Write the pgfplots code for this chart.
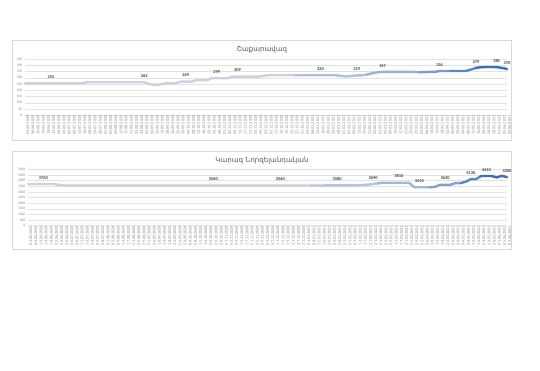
\documentclass[border=0pt]{standalone}
\usepackage{fontspec}
\setmainfont{Carlito}
\newfontfamily\armfont{DejaVu Sans}
\usepackage{pgfplots}
\usepackage{pgfplotstable}
\pgfplotsset{compat=1.18}
\definecolor{lc}{HTML}{C9D2DF}
\definecolor{dc}{HTML}{2E67B1}
\definecolor{gridc}{HTML}{E3E3E3}
\definecolor{tickc}{HTML}{8C8C8C}
\definecolor{labc}{HTML}{404040}
\definecolor{titc}{HTML}{595959}
\definecolor{boxc}{HTML}{D9D9D9}

\pgfplotstableread{
x y
0 255
1 255
2 255
3 255
4 255
5 255
6 255
7 255
8 255
9 255
10 255
11 255
12 264
13 264
14 264
15 264
16 264
17 264
18 264
19 264
20 264
21 264
22 264
23 264
24 250
25 244
26 246
27 255
28 255
29 255
30 269
31 269
32 269
33 280
34 280
35 280
36 296
37 296
38 296
39 296
40 309
41 309
42 309
43 309
44 309
45 309
46 315
47 320
48 320
49 320
50 320
51 320
52 320
53 320
54 320
55 320
56 320
57 320
58 320
59 320
60 320
61 314
62 311
63 314
64 319
65 319
66 326
67 336
68 344
69 347
70 347
71 347
72 347
73 347
74 347
75 347
76 344
77 345
78 347
79 347
80 354
81 354
82 354
83 354
84 354
85 354
86 365
87 379
88 384
89 386
90 386
91 385
92 379
93 370
}\topdata

\pgfplotstableread{
x y lab
5 255 255
23 264 264
31 269 269
37 296 299
41 309 309
57 320 320
64 319 319
69 347 347
80 354 354
87 379 379
91 385 385
93 370 370
}\toplabels

\pgfplotstableread{
x y
0 3700
1 3700
2 3700
3 3700
4 3700
5 3700
6 3600
7 3560
8 3560
9 3560
10 3560
11 3560
12 3560
13 3560
14 3560
15 3560
16 3560
17 3560
18 3560
19 3560
20 3560
21 3560
22 3560
23 3560
24 3560
25 3560
26 3560
27 3560
28 3560
29 3560
30 3560
31 3560
32 3560
33 3560
34 3560
35 3560
36 3560
37 3560
38 3560
39 3560
40 3560
41 3560
42 3560
43 3560
44 3560
45 3560
46 3560
47 3560
48 3560
49 3560
50 3560
51 3560
52 3560
53 3560
54 3560
55 3560
56 3560
57 3560
58 3580
59 3580
60 3580
61 3580
62 3580
63 3580
64 3580
65 3600
66 3640
67 3690
68 3760
69 3810
70 3810
71 3810
72 3810
73 3810
74 3800
75 3410
76 3410
77 3410
78 3410
79 3440
80 3630
81 3630
82 3630
83 3780
84 3780
85 3900
86 4130
87 4130
88 4410
89 4410
90 4410
91 4280
92 4420
93 4300
}\botdata

\pgfplotstableread{
x y lab
3 3700 3700
36 3560 3560
49 3560 3560
60 3580 3580
67 3690 3690
72 3810 3810
76 3410 3410
81 3630 3630
86 4130 4130
89 4410 4410
93 4300 4300
}\botlabels

\pgfplotsset{
  mychart/.style={
    scale only axis, clip=false,
    xmin=0, xmax=93,
    axis line style={draw=none},
    major tick length=0pt,
    ymajorgrids,
    grid style={gridc, line width=0.45pt},
    xtick={0,...,93},
    xticklabels={02.06.2020,06.06.2020,10.06.2020,14.06.2020,18.06.2020,22.06.2020,26.06.2020,30.06.2020,
04.07.2020,08.07.2020,12.07.2020,16.07.2020,20.07.2020,24.07.2020,28.07.2020,
01.08.2020,05.08.2020,09.08.2020,13.08.2020,17.08.2020,21.08.2020,25.08.2020,29.08.2020,
02.09.2020,06.09.2020,10.09.2020,14.09.2020,18.09.2020,22.09.2020,26.09.2020,30.09.2020,
04.10.2020,08.10.2020,12.10.2020,16.10.2020,20.10.2020,24.10.2020,28.10.2020,
01.11.2020,05.11.2020,09.11.2020,13.11.2020,17.11.2020,21.11.2020,25.11.2020,29.11.2020,
03.12.2020,07.12.2020,11.12.2020,15.12.2020,19.12.2020,23.12.2020,27.12.2020,31.12.2020,
04.01.2021,08.01.2021,12.01.2021,16.01.2021,20.01.2021,24.01.2021,28.01.2021,
01.02.2021,05.02.2021,09.02.2021,13.02.2021,17.02.2021,21.02.2021,25.02.2021,
01.03.2021,05.03.2021,09.03.2021,13.03.2021,17.03.2021,21.03.2021,25.03.2021,29.03.2021,
02.04.2021,06.04.2021,10.04.2021,14.04.2021,18.04.2021,22.04.2021,26.04.2021,30.04.2021,
04.05.2021,08.05.2021,12.05.2021,16.05.2021,20.05.2021,24.05.2021,28.05.2021,
01.06.2021,05.06.2021,09.06.2021},
    xticklabel style={font=\fontsize{4.2}{5}\selectfont, text=tickc, rotate=90, anchor=east, inner sep=0pt, yshift=-2.6pt},
    yticklabel style={font=\fontsize{3.6}{4}\selectfont, text=tickc, inner sep=0pt, xshift=-2.5pt},
    /pgf/number format/assume math mode=true,
    /pgf/number format/1000 sep={},
    every node near coord/.append style={font=\fontsize{4.4}{5}\selectfont\bfseries, text=labc, anchor=south, inner sep=0pt, yshift=4.6pt},
  },
  seg/.style={line width=2.4pt, line join=round, line cap=round, mark=none},
}

\begin{document}
\begin{tikzpicture}
\path[use as bounding box, fill=white] (0,0) rectangle (540pt,370pt);
\draw[boxc, line width=0.5pt] (12pt,330pt) rectangle (511pt,229.5pt);
\draw[boxc, line width=0.5pt] (12pt,218.3pt) rectangle (511pt,121pt);
\node[font=\armfont\fontsize{7}{8}\selectfont, text=titc] at (262pt,320pt) {Շաքարավազ};
\node[font=\armfont\fontsize{7}{8}\selectfont, text=titc] at (262pt,209pt) {Կարագ Նորզելանդական};

\begin{axis}[mychart, at={(25pt,254.7pt)}, anchor=south west, width=482pt, height=56.3pt,
  ymin=0, ymax=450, ytick={0,50,...,450}]
\addplot[seg, color=lc, restrict x to domain=0:52] table[x=x,y=y] {\topdata};
\addplot[seg, color=dc!15!lc, restrict x to domain=52:66] table[x=x,y=y] {\topdata};
\addplot[seg, color=dc!30!lc, restrict x to domain=66:76] table[x=x,y=y] {\topdata};
\addplot[seg, color=dc!50!lc, restrict x to domain=76:82] table[x=x,y=y] {\topdata};
\addplot[seg, color=dc!70!lc, restrict x to domain=82:87] table[x=x,y=y] {\topdata};
\addplot[seg, color=dc!92!lc, restrict x to domain=87:93] table[x=x,y=y] {\topdata};
\addplot[draw=none, mark=none, nodes near coords, point meta=explicit symbolic] table[x=x,y=y,meta=lab] {\toplabels};
\end{axis}

\begin{axis}[mychart, at={(28pt,144.3pt)}, anchor=south west, width=479pt, height=56.4pt,
  ymin=0, ymax=5000, ytick={0,500,...,5000}]
\addplot[seg, color=lc, restrict x to domain=0:55] table[x=x,y=y] {\botdata};
\addplot[seg, color=dc!12!lc, restrict x to domain=55:68] table[x=x,y=y] {\botdata};
\addplot[seg, color=dc!25!lc, restrict x to domain=68:78] table[x=x,y=y] {\botdata};
\addplot[seg, color=dc!45!lc, restrict x to domain=78:84] table[x=x,y=y] {\botdata};
\addplot[seg, color=dc!70!lc, restrict x to domain=84:88] table[x=x,y=y] {\botdata};
\addplot[seg, color=dc!92!lc, restrict x to domain=88:93] table[x=x,y=y] {\botdata};
\addplot[draw=none, mark=none, nodes near coords, point meta=explicit symbolic] table[x=x,y=y,meta=lab] {\botlabels};
\end{axis}
\end{tikzpicture}
\end{document}
